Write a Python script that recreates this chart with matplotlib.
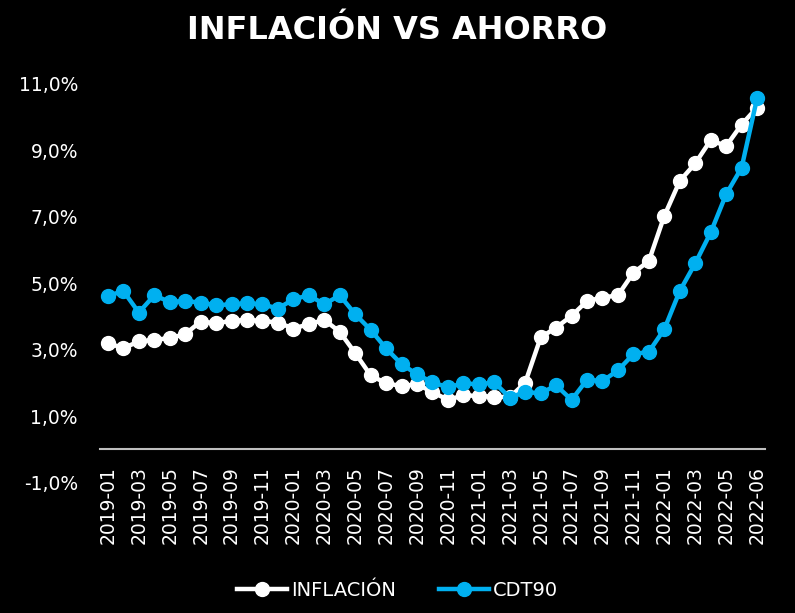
import numpy as np
import matplotlib
matplotlib.use('Agg')
import matplotlib.pyplot as plt
from matplotlib.ticker import FuncFormatter

# data (percent)
inflacion = [3.20, 3.05, 3.25, 3.30, 3.35, 3.47, 3.85, 3.80, 3.87, 3.90,
             3.87, 3.82, 3.64, 3.77, 3.90, 3.54, 2.90, 2.23, 1.99, 1.91,
             1.96, 1.73, 1.49, 1.63, 1.61, 1.59, 1.57, 2.01, 3.37, 3.67,
             4.02, 4.47, 4.57, 4.64, 5.32, 5.67, 7.03, 8.08, 8.61, 9.31,
             9.13, 9.78, 10.29]
cdt90 = [4.62, 4.77, 4.12, 4.64, 4.44, 4.47, 4.42, 4.34, 4.37, 4.40,
         4.37, 4.24, 4.52, 4.64, 4.37, 4.64, 4.07, 3.60, 3.04, 2.57,
         2.26, 2.02, 1.87, 1.99, 1.96, 2.02, 1.56, 1.73, 1.69, 1.93,
         1.49, 2.10, 2.06, 2.38, 2.87, 2.94, 3.62, 4.77, 5.60, 6.53,
         7.68, 8.48, 10.57]
tick_labels = ['2019-01', '2019-03', '2019-05', '2019-07', '2019-09', '2019-11',
               '2020-01', '2020-03', '2020-05', '2020-07', '2020-09', '2020-11',
               '2021-01', '2021-03', '2021-05', '2021-07', '2021-09', '2021-11',
               '2022-01', '2022-03', '2022-05', '2022-06']
y_ticks = [-1, 1, 3, 5, 7, 9, 11]

WHITE = '#FFFFFF'
BLUE = '#00B0F0'

plt.rcParams['font.family'] = ['DejaVu Sans']

fig = plt.figure(figsize=(7.95, 6.13), dpi=100, facecolor='black')
ax = fig.add_axes([0.126, 0.2126, 0.836, 0.6504])
ax.set_facecolor('black')

x = np.arange(len(inflacion))
ax.plot(x, inflacion, color=WHITE, lw=3.2, marker='o', ms=10,
        label='INFLACIÓN', zorder=3)
ax.plot(x, cdt90, color=BLUE, lw=3.2, marker='o', ms=10,
        label='CDT90', zorder=4)

# axis line sits at 0%, like the original
for s in ['top', 'right', 'left']:
    ax.spines[s].set_visible(False)
ax.spines['bottom'].set_position(('data', 0))
ax.spines['bottom'].set_color('#BFBFBF')
ax.spines['bottom'].set_linewidth(1.5)

ax.set_xlim(-0.5, len(inflacion) - 0.5)
ax.set_ylim(-1, 11)
ax.set_yticks(y_ticks)
ax.yaxis.set_major_formatter(FuncFormatter(lambda v, p: f'{v:.1f}%'.replace('.', ',')))
ax.set_xticks(np.arange(0, len(inflacion), 2))
ax.set_xticklabels(tick_labels)
ax.tick_params(axis='y', length=0, pad=16, labelsize=13.5, colors='white')
ax.tick_params(axis='x', length=0, pad=12, labelsize=13.5, colors='white',
               labelrotation=90)

fig.suptitle('INFLACIÓN VS AHORRO', color='white', fontsize=23,
             fontweight='bold', y=0.975)

leg = fig.legend(loc='center', bbox_to_anchor=(0.5, 0.0375), ncol=2,
                 frameon=False, fontsize=14, handlelength=2.6,
                 columnspacing=2.2, handletextpad=0.2)
for t in leg.get_texts():
    t.set_color('white')

fig.savefig('out.png', dpi=100, facecolor='black')
